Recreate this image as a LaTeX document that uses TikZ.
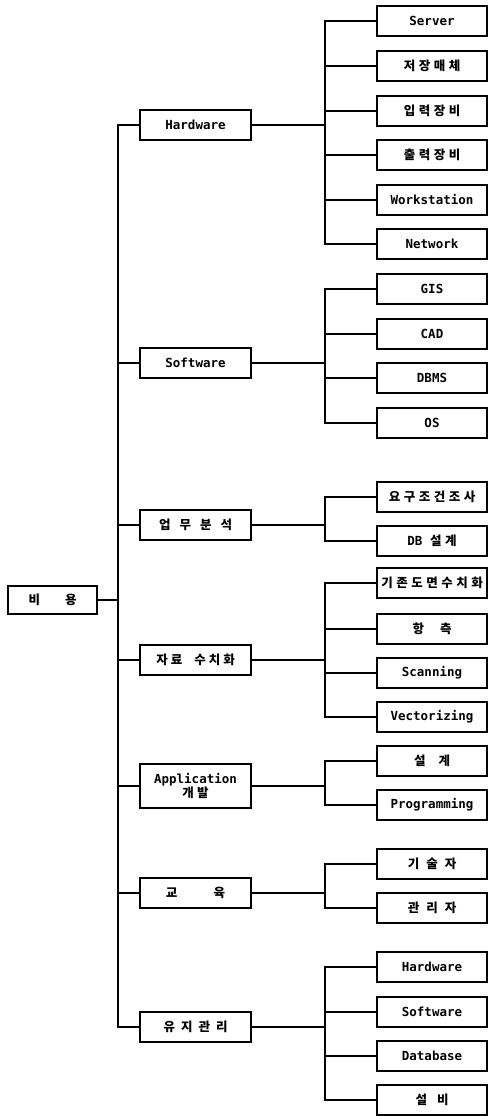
\documentclass[tikz,border=0pt]{standalone}
\usepackage{fontspec}
\newfontfamily\lat{DejaVu Sans Mono}
\newfontfamily\kor{Noto Sans CJK KR}[LetterSpace=28]
\newcommand\gp[1]{\hspace{#1pt}}
\begin{document}
\begin{tikzpicture}[x=1pt,y=-1pt,
  every node/.style={font=\lat\bfseries\fontsize{12.5}{14}\selectfont},
  box/.style={draw, line width=1.2pt, inner sep=0pt, minimum height=30pt},
  leaf/.style={box, minimum width=110pt},
  mid/.style={box, minimum width=111pt},
  conn/.style={line width=1.2pt}]
\useasboundingbox (0,0) rectangle (488,1116);
% root
\node[box, minimum width=89pt, minimum height=28pt] (root) at (52.5,600) {\kor 비\hspace{2em}용};
% middle nodes
\node[mid] (hw) at (195.5,125) {Hardware};
\node[mid] (sw) at (195.5,363) {Software};
\node[mid] (ub) at (195.5,525) {\kor 업\gp{9}무\gp{9}분\gp{9}석};
\node[mid] (js) at (195.5,660) {\kor 자\gp{3}료\gp{12}수\gp{3}치\gp{3}화};
\node[mid, minimum height=44pt, align=center] (ap) at (195.5,786) {Application\\[0pt]{\kor 개발}};
\node[mid] (ed) at (195.5,893) {\kor 교\hspace{2.9em}육};
\node[mid] (ma) at (195.5,1027) {\kor 유\gp{6}지\gp{6}관\gp{6}리};
% leaves
\node[leaf] (h1) at (432,21) {Server};
\node[leaf] (h2) at (432,66) {\kor 저장매체};
\node[leaf] (h3) at (432,111) {\kor 입력장비};
\node[leaf] (h4) at (432,155) {\kor 출력장비};
\node[leaf] (h5) at (432,200) {Workstation};
\node[leaf] (h6) at (432,244) {Network};
\node[leaf] (s1) at (432,289) {GIS};
\node[leaf] (s2) at (432,334) {CAD};
\node[leaf] (s3) at (432,378) {DBMS};
\node[leaf] (s4) at (432,423) {OS};
\node[leaf] (u1) at (432,497) {\kor 요구조건조사};
\node[leaf] (u2) at (432,541) {DB {\kor 설계}};
\node[leaf] (j1) at (432,583) {\kor 기존도면수치화};
\node[leaf] (j2) at (432,629) {\kor 항\gp{16}측};
\node[leaf] (j3) at (432,673) {Scanning};
\node[leaf] (j4) at (432,717) {Vectorizing};
\node[leaf] (a1) at (432,761) {\kor 설\gp{13}계};
\node[leaf] (a2) at (432,805) {Programming};
\node[leaf] (e1) at (432,864) {\kor 기\gp{7}술\gp{7}자};
\node[leaf] (e2) at (432,908) {\kor 관\gp{7}리\gp{7}자};
\node[leaf] (m1) at (432,967) {Hardware};
\node[leaf] (m2) at (432,1012) {Software};
\node[leaf] (m3) at (432,1056) {Database};
\node[leaf] (m4) at (432,1100) {\kor 설\gp{10}비};
% bus coordinates
\coordinate (mb) at (118,600);
\coordinate (bh) at (325,125);
\coordinate (bs) at (325,363);
\coordinate (bu) at (325,525);
\coordinate (bj) at (325,660);
\coordinate (ba) at (325,786);
\coordinate (be) at (325,893);
\coordinate (bm) at (325,1027);
% main bus
\draw[conn] (root.east) -- (mb);
\draw[conn] (hw.west) -| (mb) |- (ma.west);
\foreach \n in {sw,ub,js,ap,ed} \draw[conn] (\n.west) -- (\n.west -| mb);
% groups
\draw[conn] (hw.east) -- (bh);
\draw[conn] (h1.west) -| (bh) |- (h6.west);
\foreach \n in {h2,h3,h4,h5} \draw[conn] (\n.west) -- (\n.west -| bh);
\draw[conn] (sw.east) -- (bs);
\draw[conn] (s1.west) -| (bs) |- (s4.west);
\foreach \n in {s2,s3} \draw[conn] (\n.west) -- (\n.west -| bs);
\draw[conn] (ub.east) -- (bu);
\draw[conn] (u1.west) -| (bu) |- (u2.west);
\draw[conn] (js.east) -- (bj);
\draw[conn] (j1.west) -| (bj) |- (j4.west);
\foreach \n in {j2,j3} \draw[conn] (\n.west) -- (\n.west -| bj);
\draw[conn] (ap.east) -- (ba);
\draw[conn] (a1.west) -| (ba) |- (a2.west);
\draw[conn] (ed.east) -- (be);
\draw[conn] (e1.west) -| (be) |- (e2.west);
\draw[conn] (ma.east) -- (bm);
\draw[conn] (m1.west) -| (bm) |- (m4.west);
\foreach \n in {m2,m3} \draw[conn] (\n.west) -- (\n.west -| bm);
\end{tikzpicture}
\end{document}
